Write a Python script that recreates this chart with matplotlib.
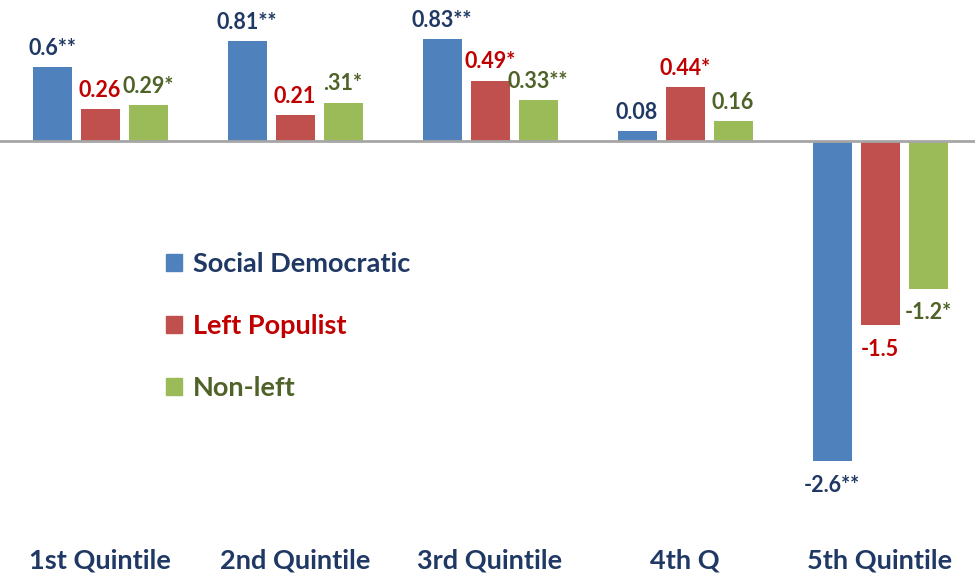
import matplotlib
matplotlib.use("Agg")
import matplotlib.pyplot as plt
from matplotlib.patches import Patch
import numpy as np

categories = ["1st Quintile", "2nd Quintile", "3rd Quintile", "4th Q", "5th Quintile"]
series_names = ["Social Democratic", "Left Populist", "Non-left"]
social_dem = [0.6, 0.81, 0.83, 0.08, -2.6]
left_pop = [0.26, 0.21, 0.49, 0.44, -1.5]
non_left = [0.29, 0.31, 0.33, 0.16, -1.2]
social_dem_labels = ["0.6**", "0.81**", "0.83**", "0.08", "-2.6**"]
left_pop_labels = ["0.26", "0.21", "0.49*", "0.44*", "-1.5"]
non_left_labels = ["0.29*", ".31*", "0.33**", "0.16", "-1.2*"]

bar_colors = ["#4F81BD", "#C0504D", "#9BBB59"]
text_colors = ["#1F3864", "#C00000", "#4F6228"]

plt.rcParams["font.family"] = ["Lato", "DejaVu Sans"]

fig = plt.figure(figsize=(9.75, 5.76), dpi=100)
ax = fig.add_axes([0, 0, 1, 1])

x = np.arange(len(categories))
width = 0.2
step = 0.246
series = [social_dem, left_pop, non_left]
labels = [social_dem_labels, left_pop_labels, non_left_labels]

for k, (vals, labs) in enumerate(zip(series, labels)):
    pos = x + (k - 1) * step
    ax.bar(pos, vals, width, color=bar_colors[k], label=series_names[k], zorder=2)
    for px, v, lab in zip(pos, vals, labs):
        off = 6 if v >= 0 else -10
        va = "bottom" if v >= 0 else "top"
        ax.annotate(lab, (px, v), xytext=(0, off), textcoords="offset points",
                    ha="center", va=va, fontsize=15.5, fontweight="bold",
                    color=text_colors[k])

ax.axhline(0, color="#A6A6A6", lw=2, zorder=3)
ax.set_xlim(-0.513, 4.487)
ax.set_ylim(-3.537, 1.146)
ax.axis("off")

for xi, cat in zip(x, categories):
    ax.text(xi, -3.41, cat, ha="center", va="center", fontsize=19.5,
            fontweight="bold", color="#1F3864")

handles = [Patch(color=c) for c in bar_colors]
leg = ax.legend(handles, series_names, loc="upper left",
                bbox_to_anchor=(0.145, 0.605), frameon=False,
                prop={"size": 19.5, "weight": "bold"},
                handlelength=0.6, handleheight=0.6, handletextpad=0.4,
                labelspacing=1.4)
for t, c in zip(leg.get_texts(), text_colors):
    t.set_color(c)

fig.savefig("out.png", dpi=100)
